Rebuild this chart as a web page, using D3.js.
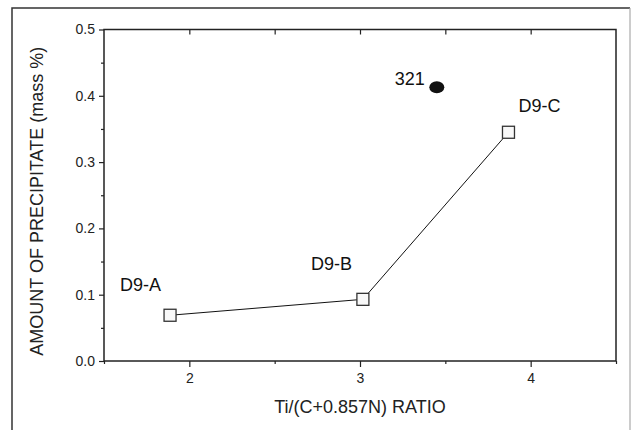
<!DOCTYPE html>
<html lang="en">
<head>
<meta charset="UTF-8">
<title>Amount of precipitate vs Ti/(C+0.857N) ratio</title>
<script src="https://d3js.org/d3.v7.min.js"></script>
<style>
  body { margin: 0; background: #fff; font-family: 'Liberation Sans', Arial, sans-serif; }
  svg { display: block; }
</style>
</head>
<body>
<svg id="chart" width="632" height="430"></svg>
<script>
// D9 series (open squares joined by a line)
const steelNames = ["D9-A", "D9-B", "D9-C"];
const steelRatio = [1.887, 3.017, 3.87];
const steelAmount = [0.069, 0.093, 0.345];

// reference steel 321 (filled dot)
const refName = "321";
const refRatio = 3.45;
const refAmount = 0.413;

const xTicks = [2, 3, 4];
const yTicks = [0.0, 0.1, 0.2, 0.3, 0.4, 0.5];

const svg = d3.select("#chart");
const m = { left: 104, right: 616, top: 29.5, bottom: 361 };

const x = d3.scaleLinear().domain([1.5, 4.5]).range([m.left, m.right]);
const y = d3.scaleLinear().domain([0, 0.5]).range([m.bottom, m.top]);

// outer frame (open at the bottom)
svg.append("path")
  .attr("d", "M12,430 V8 H630")
  .attr("fill", "none").attr("stroke", "#333").attr("stroke-width", 1.5);
svg.append("line")
  .attr("x1", 630).attr("x2", 630).attr("y1", 8).attr("y2", 430)
  .attr("stroke", "#aaa").attr("stroke-width", 1.2);

// plot box
svg.append("rect")
  .attr("x", m.left).attr("y", m.top)
  .attr("width", m.right - m.left).attr("height", m.bottom - m.top)
  .attr("fill", "none").attr("stroke", "#222").attr("stroke-width", 1.5);

function styleAxis(g) {
  g.select(".domain").remove();
  g.selectAll("line").attr("stroke", "#222").attr("stroke-width", 1.2);
  g.selectAll("text").attr("fill", "#222")
    .style("font-family", "'Liberation Sans', Arial, sans-serif")
    .style("font-size", "14px");
}

// bottom axis: majors + minors outward
svg.append("g").attr("transform", `translate(0,${m.bottom})`)
  .call(d3.axisBottom(x).tickValues(xTicks).tickFormat(d3.format("d")).tickSize(6).tickPadding(6))
  .call(styleAxis);
svg.append("g").attr("transform", `translate(0,${m.bottom})`)
  .call(d3.axisBottom(x).tickValues([1.5, 2.5, 3.5, 4.5]).tickFormat("").tickSize(3))
  .call(styleAxis);

// top axis: ticks inward
svg.append("g").attr("transform", `translate(0,${m.top})`)
  .call(d3.axisTop(x).tickValues([2, 2.5, 3, 3.5, 4]).tickFormat("").tickSize(-5))
  .call(styleAxis);

// left axis
svg.append("g").attr("transform", `translate(${m.left},0)`)
  .call(d3.axisLeft(y).tickValues(yTicks).tickFormat(d3.format(".1f")).tickSize(5).tickPadding(4))
  .call(styleAxis);
svg.append("g").attr("transform", `translate(${m.left},0)`)
  .call(d3.axisLeft(y).tickValues([0.05, 0.15, 0.25, 0.35, 0.45]).tickFormat("").tickSize(3))
  .call(styleAxis);

// axis titles
svg.append("text")
  .attr("x", (m.left + m.right) / 2).attr("y", 408)
  .attr("text-anchor", "middle").attr("dominant-baseline", "middle")
  .attr("fill", "#222").style("font-size", "18px")
  .text("Ti/(C+0.857N) RATIO");
svg.append("text")
  .attr("transform", `translate(38,${(m.top + m.bottom) / 2 + 6}) rotate(-90)`)
  .attr("text-anchor", "middle").attr("dominant-baseline", "middle")
  .attr("fill", "#222").style("font-size", "18px")
  .text("AMOUNT OF PRECIPITATE (mass %)");

// D9 line and squares
const pts = steelNames.map((n, i) => ({ name: n, r: steelRatio[i], a: steelAmount[i] }));
svg.append("path").datum(pts)
  .attr("fill", "none").attr("stroke", "#111").attr("stroke-width", 1)
  .attr("d", d3.line().x(d => x(d.r)).y(d => y(d.a)));

const sq = 12;
svg.selectAll("rect.pt").data(pts).enter().append("rect")
  .attr("class", "pt")
  .attr("x", d => x(d.r) - sq / 2).attr("y", d => y(d.a) - sq / 2)
  .attr("width", sq).attr("height", sq)
  .attr("fill", "#f8f8f8").attr("stroke", "#333").attr("stroke-width", 1.3);

// labels for the D9 points
const labelOffsets = [[-50, -29], [-52, -34], [10, -25]];
svg.selectAll("text.lbl").data(pts).enter().append("text")
  .attr("class", "lbl")
  .attr("x", (d, i) => x(d.r) + labelOffsets[i][0])
  .attr("y", (d, i) => y(d.a) + labelOffsets[i][1])
  .attr("dominant-baseline", "middle")
  .attr("fill", "#111").style("font-size", "18px")
  .text(d => d.name);

// 321 point
svg.append("ellipse")
  .attr("cx", x(refRatio)).attr("cy", y(refAmount))
  .attr("rx", 7.5).attr("ry", 6)
  .attr("fill", "#111");
svg.append("text")
  .attr("x", x(refRatio) - 12).attr("y", y(refAmount) - 7)
  .attr("text-anchor", "end").attr("dominant-baseline", "middle")
  .attr("fill", "#111").style("font-size", "18px")
  .text(refName);
</script>
</body>
</html>
